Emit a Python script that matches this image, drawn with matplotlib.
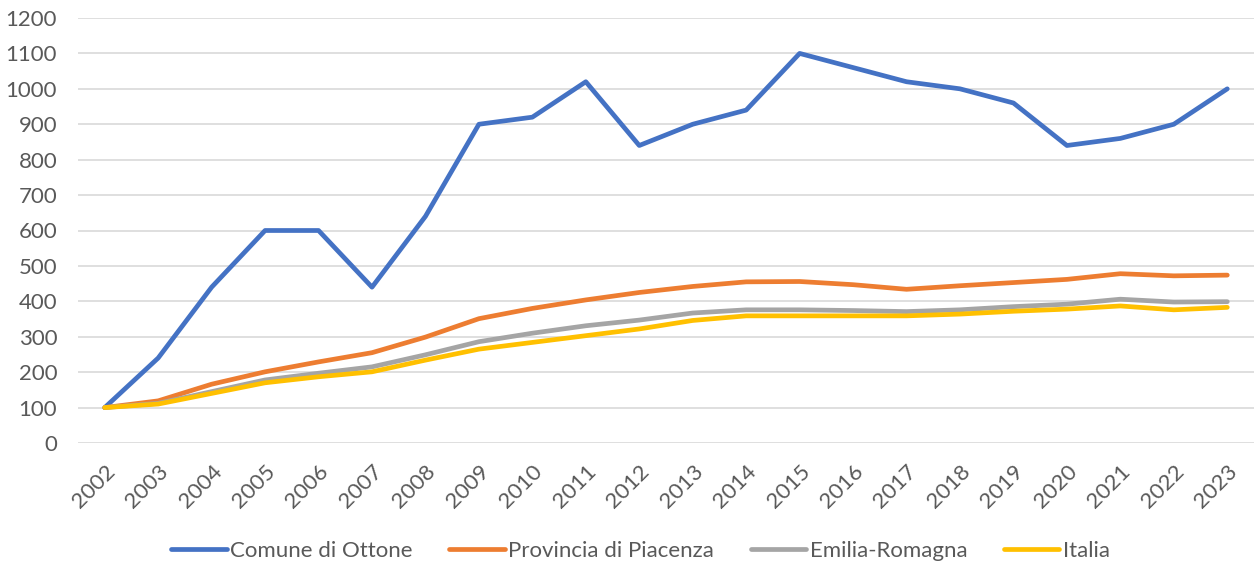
import matplotlib.pyplot as plt

anni = list(range(2002, 2024))

ottone = [100, 240, 440, 600, 600, 440, 640, 900, 920, 1020, 840,
          900, 940, 1100, 1060, 1020, 1000, 960, 840, 860, 900, 1000]
piacenza = [100, 119, 166, 201, 229, 255, 299, 351, 380, 404, 425,
            442, 455, 456, 447, 434, 444, 453, 462, 478, 472, 474]
emilia = [100, 112, 145, 178, 197, 215, 249, 286, 310, 331, 347,
          367, 376, 376, 374, 371, 376, 385, 392, 406, 398, 399]
italia = [100, 110, 140, 170, 187, 201, 234, 265, 284, 303, 322,
          346, 359, 359, 359, 359, 364, 372, 378, 387, 376, 383]

etichette = ["Comune di Ottone", "Provincia di Piacenza", "Emilia-Romagna", "Italia"]
colori = ["#4472C4", "#ED7D31", "#A5A5A5", "#FFC000"]

plt.rcParams["font.family"] = ["Lato", "DejaVu Sans"]

fig = plt.figure(figsize=(12.55, 5.68), dpi=100)
ax = fig.add_axes([78 / 1255, 1 - 443 / 568, 1176 / 1255, 425 / 568])

for serie, nome, col in zip([ottone, piacenza, emilia, italia], etichette, colori):
    ax.plot(anni, serie, color=col, lw=3.4, label=nome, solid_capstyle="round")

ax.set_xlim(2001.5, 2023.5)
ax.set_ylim(0, 1200)
ax.set_yticks(range(0, 1201, 100))
ax.set_xticks(anni)
ax.set_xticklabels([str(a) for a in anni], rotation=45, ha="right",
                   rotation_mode="anchor")
ax.grid(axis="y", color="#D9D9D9", lw=1.2)
ax.set_axisbelow(True)
for s in ax.spines.values():
    s.set_visible(False)
ax.tick_params(length=0, labelsize=16, colors="#595959")
ax.tick_params(axis="x", pad=13)
ax.tick_params(axis="y", pad=15)

fig.legend(loc="center", bbox_to_anchor=(0.5 + 13 / 1255, 1 - 551 / 568), ncol=4,
           frameon=False, fontsize=16, labelcolor="#595959",
           handlelength=2.5, handletextpad=0.15, columnspacing=1.65)

fig.savefig("out.png", dpi=100)
